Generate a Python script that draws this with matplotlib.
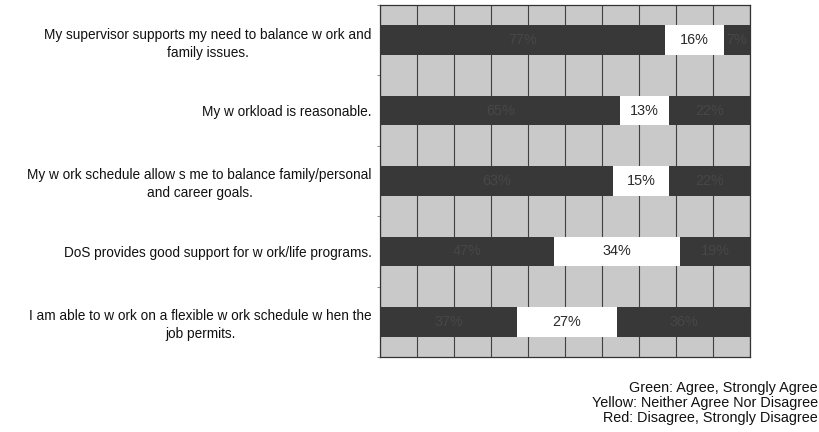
import numpy as np
import matplotlib
matplotlib.use('Agg')
import matplotlib.pyplot as plt

plt.rcParams['font.family'] = ['Liberation Sans', 'DejaVu Sans']

# survey items, listed top to bottom
items = [
    "My supervisor supports my need to balance w ork and\nfamily issues.",
    "My w orkload is reasonable.",
    "My w ork schedule allow s me to balance family/personal\nand career goals.",
    "DoS provides good support for w ork/life programs.",
    "I am able to w ork on a flexible w ork schedule w hen the\njob permits.",
]
agree = [77, 65, 63, 47, 37]
neither = [16, 13, 15, 34, 27]
disagree = [7, 22, 22, 19, 36]

legend_lines = [
    "Green: Agree, Strongly Agree",
    "Yellow: Neither Agree Nor Disagree",
    "Red: Disagree, Strongly Disagree",
]

DARK = '#383838'
BG = '#c9c9c9'

fig = plt.figure(figsize=(8.2, 4.32), dpi=100)
ax = fig.add_axes([380 / 820, 1 - 357 / 432, 370 / 820, 352 / 432])
ax.set_facecolor(BG)

y = np.arange(len(items))
h = 0.42
left = np.zeros(len(items))
for vals, color, txt in [(agree, DARK, '#474747'),
                         (neither, 'white', '#2a2a2a'),
                         (disagree, DARK, '#474747')]:
    bars = ax.barh(y, vals, left=left, height=h, color=color,
                   edgecolor='none', zorder=3)
    for b, v in zip(bars, vals):
        ax.text(b.get_x() + b.get_width() / 2, b.get_y() + b.get_height() / 2,
                f"{v}%", ha='center', va='center', fontsize=10.4,
                color=txt, zorder=4)
    left += np.array(vals)

ax.set_xlim(0, 100)
ax.set_ylim(len(items) - 0.5, -0.5)
ax.set_xticks(np.arange(0, 101, 10))
ax.set_xticklabels([])
ax.tick_params(axis='x', length=0)
ax.grid(True, axis='x', color='#404040', linewidth=0.8, zorder=1)

# category labels, small ticks on the category boundaries
ax.set_yticks(y)
ax.set_yticklabels(items, fontsize=9.8, multialignment='center',
                   linespacing=1.35, color='#111111')
ax.tick_params(axis='y', length=0, pad=6)
ax.set_yticks(np.arange(len(items) + 1) - 0.5, minor=True)
ax.tick_params(axis='y', which='minor', length=2.5, color='#777777')

for sp in ax.spines.values():
    sp.set_color('#333333')
    sp.set_linewidth(0.9)

for i, line in enumerate(legend_lines):
    fig.text(818 / 820, 1 - (388 + 15 * i) / 432, line, ha='right',
             va='center', fontsize=10.4, color='#111111')

fig.savefig('out.png', dpi=100)
